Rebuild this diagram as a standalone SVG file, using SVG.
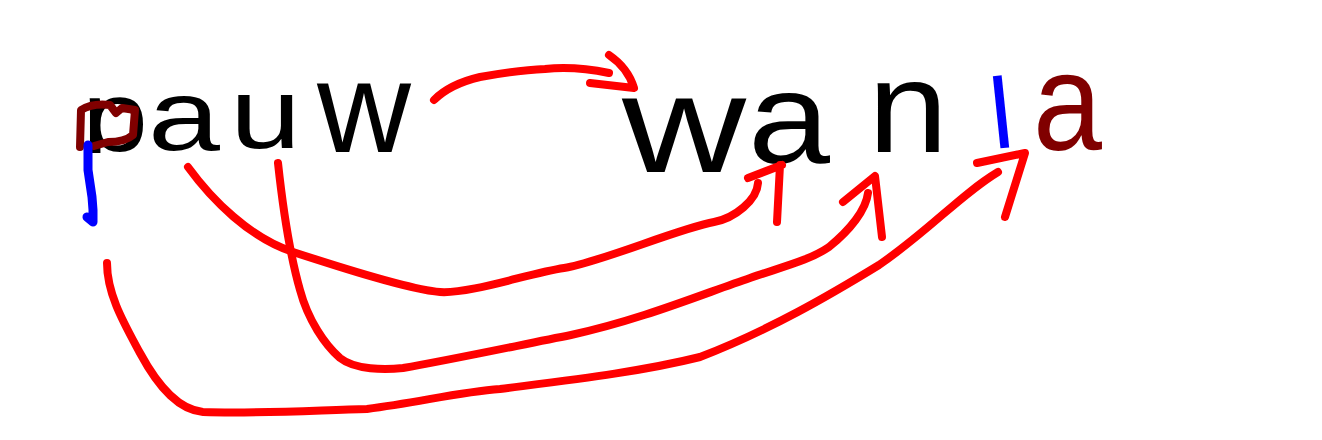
<svg xmlns="http://www.w3.org/2000/svg" width="1322" height="440" viewBox="0 0 1322 440">
<style>
.t{font-family:"Liberation Sans",Arial,sans-serif;}
.k{fill:#000000;}
.b{fill:#0000ff;}
.m{fill:#800000;}
.r{fill:none;stroke:#ff0000;stroke-width:8;stroke-linecap:round;stroke-linejoin:round;}
.bs{fill:none;stroke:#0000ff;stroke-width:9;stroke-linecap:round;stroke-linejoin:round;}
.ms{fill:none;stroke:#800000;stroke-width:8;stroke-linecap:round;stroke-linejoin:round;}
</style>
<defs>
<clipPath id="above"><rect x="0" y="0" width="1322" height="153"/></clipPath>
</defs>
<rect width="1322" height="440" fill="#ffffff"/>
<g id="pauw">
<g id="p-letter">
<text class="t k" x="82" y="151" font-size="100" textLength="66" lengthAdjust="spacingAndGlyphs" clip-path="url(#above)">p</text>
<path class="ms" d="M80,147 L81,110 Q92,103 110,105 L116,113 L122,108 L135,110 L133,135 Q125,142 108,142 L94,146"/>
<path class="bs" d="M88,145 L88,170 L92,197 L93,210 L93,222 L87,217"/>
</g>
<text id="a1" class="t k" x="148" y="150" font-size="100" textLength="72" lengthAdjust="spacingAndGlyphs">a</text>
<text id="u1" class="t k" x="230" y="148" font-size="100" textLength="71" lengthAdjust="spacingAndGlyphs">u</text>
<text id="w1" class="t k" x="317" y="152" font-size="130">w</text>
</g>
<g id="wanla">
<text id="w2" class="t k" x="622" y="172" font-size="140" textLength="124" lengthAdjust="spacingAndGlyphs">w</text>
<text id="a2" class="t k" x="748" y="163" font-size="130" textLength="82" lengthAdjust="spacingAndGlyphs">a</text>
<text id="n2" class="t k" x="868" y="152" font-size="130" textLength="80" lengthAdjust="spacingAndGlyphs">n</text>
<text id="l2" class="t b" x="990" y="148" font-size="100" transform="rotate(-6 1001 113)">l</text>
<text id="a3" class="t m" x="1033" y="150" font-size="140" textLength="69" lengthAdjust="spacingAndGlyphs">a</text>
</g>
<g id="connectors">
<path class="r" d="M434,100 Q450,84 480,77 Q520,70 545,69 Q575,66 609,73"/>
<path class="r" d="M609,55 Q628,68 634,88 L590,83"/>
<path class="r" d="M188,167 C212,200 250,238 293,252 C336,266 410,290 440,292 C470,294 530,273 564,268 C598,263 680,228 714,222 C735,218 757,200 758,183"/>
<path class="r" d="M748,178 L782,165 M780,165 L777,222"/>
<path class="r" d="M278,163 C282,200 290,255 300,290 C308,320 325,345 340,358 C355,370 385,370 403,368 C450,360 520,345 571,335 C640,320 700,295 750,278 C785,266 810,260 829,247 C850,230 866,210 868,193"/>
<path class="r" d="M843,202 L875,176 L882,237"/>
<path class="r" d="M107,263 C107,295 125,325 140,353 C160,390 180,410 203,412 C260,414 320,410 367,409 C420,402 460,392 500,389 C570,380 640,372 700,357 C770,330 830,295 879,265 C930,230 960,195 998,172"/>
<path class="r" d="M977,163 L1025,153 L1005,217"/>
</g>
</svg>
